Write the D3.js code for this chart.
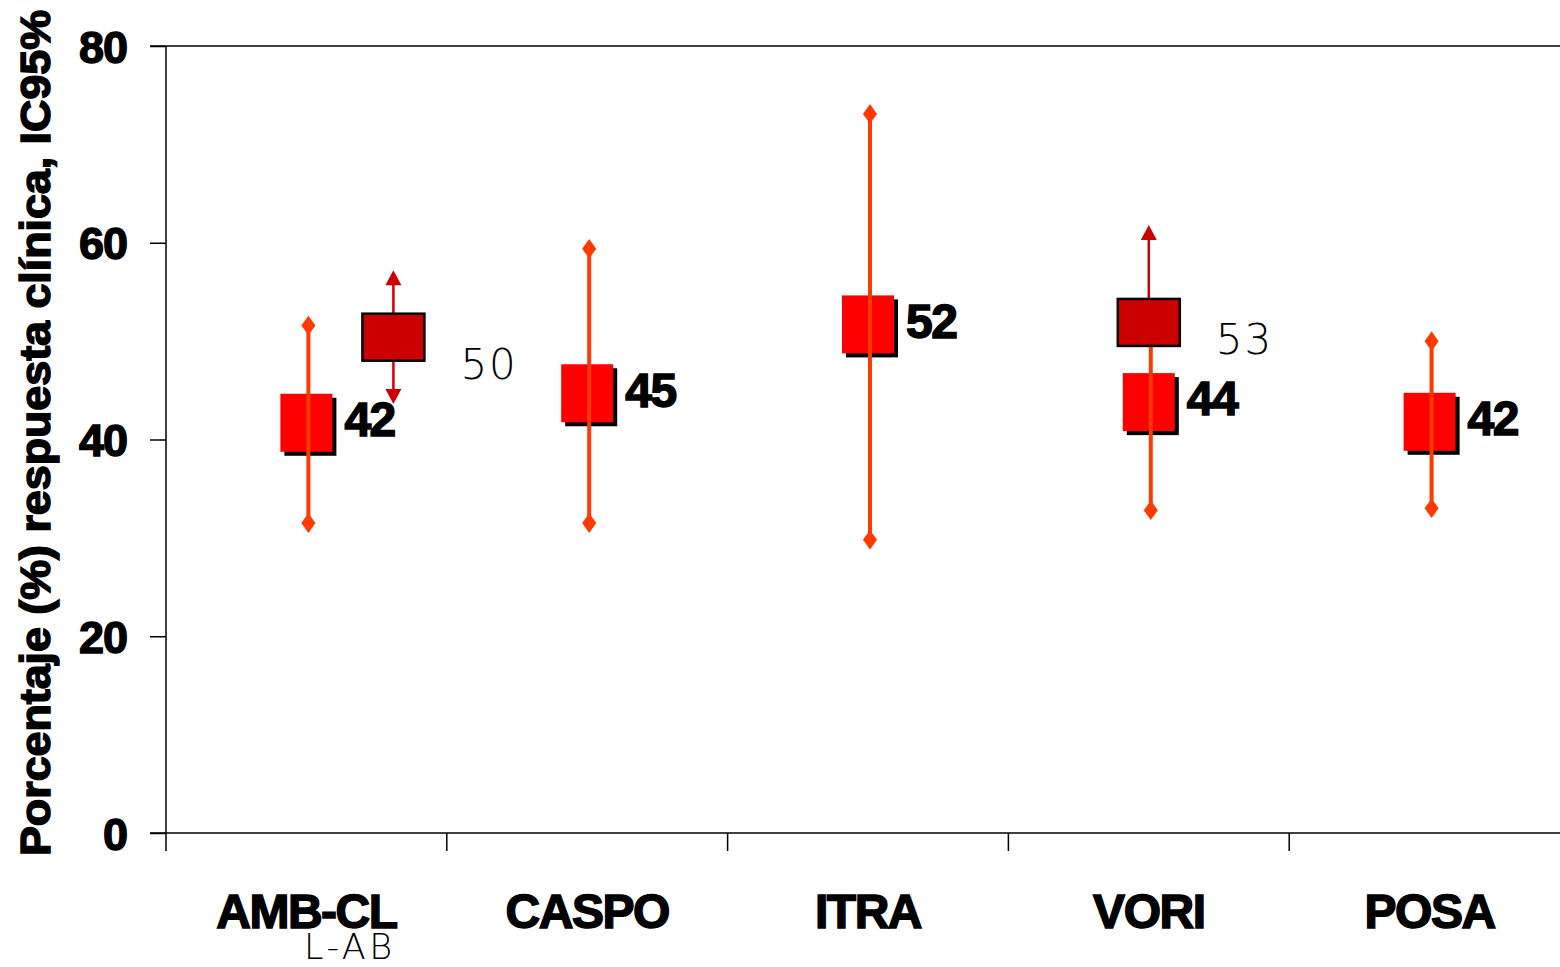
<!DOCTYPE html>
<html><head><meta charset="utf-8">
<script src="https://cdn.jsdelivr.net/npm/d3@7"></script>
<style>
html,body{margin:0;padding:0;background:#fff;overflow:hidden}
svg{display:block}
</style></head>
<body>
<script>
// ---- data ----
const categories = ["AMB-CL", "CASPO", "ITRA", "VORI", "POSA"];
const meanPos = [41.7, 44.7, 51.7, 43.8, 41.8];
const meanLabels = ["42", "45", "52", "44", "42"];
const ciLow = [31.5, 31.5, 29.8, 32.8, 33.0];
const ciHigh = [51.6, 59.4, 73.1, 52.0, 50.0];
const labCategories = ["AMB-CL", "VORI"];
const labPos = [50.4, 51.9];
const labLabels = ["50", "53"];
const labHigh = [57.2, 61.8];
const labLow = [43.6, null];
const yTicks = [0, 20, 40, 60, 80];
const yTitle = "Porcentaje (%) respuesta clínica, IC95%";
const subLabel = "L-AB";

// ---- layout ----
const W = 1560, H = 967;
const svg = d3.select("body").append("svg").attr("width", W).attr("height", H);
const y = d3.scaleLinear().domain([0, 80]).range([833, 46]);
const x = d3.scaleBand().domain(categories).range([166, 1570]);
const cx = c => x(c) + x.bandwidth() / 2;
const labShift = {"AMB-CL": 87, "VORI": 0};
const labDy = {"AMB-CL": 27, "VORI": 16};

const ORANGE = "#ff3a00", RED = "#ff0000", DARK = "#cc0000";

// frame lines
svg.append("line").attr("x1", 150).attr("x2", W).attr("y1", y(80)).attr("y2", y(80))
  .attr("stroke", "#000").attr("stroke-width", 1.5);
svg.append("line").attr("x1", 150).attr("x2", W).attr("y1", y(0)).attr("y2", y(0))
  .attr("stroke", "#000").attr("stroke-width", 1.5);
svg.append("line").attr("x1", 166).attr("x2", 166).attr("y1", y(80)).attr("y2", 851)
  .attr("stroke", "#000").attr("stroke-width", 1.5);

// y axis
const yAxis = svg.append("g").attr("transform", "translate(166,0)")
  .call(d3.axisLeft(y).tickValues(yTicks).tickSize(16).tickSizeOuter(0).tickPadding(23));
yAxis.select(".domain").remove();
yAxis.selectAll(".tick line").attr("stroke", "#000").attr("stroke-width", 1.5);
yAxis.selectAll(".tick text")
  .attr("font-family", "Liberation Sans, Arial, sans-serif").attr("font-weight", "bold")
  .attr("font-size", 45).attr("fill", "#000").attr("stroke", "#000").attr("stroke-width", 1.4)
  .attr("letter-spacing", -1).attr("dy", "0.36em");

// x ticks at band boundaries
const xb = categories.map(c => x(c)).slice(1);
svg.selectAll(".xt").data(xb).enter().append("line")
  .attr("x1", d => d).attr("x2", d => d).attr("y1", y(0)).attr("y2", 851)
  .attr("stroke", "#000").attr("stroke-width", 1.5);

// category labels
svg.selectAll(".cat").data(categories).enter().append("text")
  .attr("x", d => cx(d)).attr("y", 928).attr("text-anchor", "middle")
  .attr("font-family", "Liberation Sans, Arial, sans-serif").attr("font-weight", "bold")
  .attr("font-size", 48).attr("letter-spacing", -1.5)
  .attr("stroke", "#000").attr("stroke-width", 1.5).text(d => d);
svg.append("text").attr("x", 304).attr("y", 959)
  .attr("font-family", "DejaVu Sans, sans-serif").attr("font-size", 35).attr("font-weight", 300)
  .attr("letter-spacing", 3.5).text(subLabel);

// y title
svg.append("text").attr("transform", "translate(50,856) rotate(-90)")
  .attr("font-family", "Liberation Sans, Arial, sans-serif").attr("font-weight", "bold")
  .attr("font-size", 42).attr("stroke", "#000").attr("stroke-width", 1.5)
  .attr("textLength", 846).attr("lengthAdjust", "spacingAndGlyphs")
  .text(yTitle);

// main markers
const main = categories.map((c, i) => ({c, m: meanPos[i], lo: ciLow[i], hi: ciHigh[i], lab: meanLabels[i]}));
const SW = 52, SH = 58;
const g = svg.append("g");
g.selectAll(".shadow").data(main).enter().append("rect")
  .attr("x", d => cx(d.c) - SW / 2 + 4).attr("y", d => y(d.m) - SH / 2 + 4)
  .attr("width", SW).attr("height", SH).attr("fill", "#000");
g.selectAll(".sq").data(main).enter().append("rect")
  .attr("x", d => cx(d.c) - SW / 2).attr("y", d => y(d.m) - SH / 2)
  .attr("width", SW).attr("height", SH).attr("fill", RED);
g.selectAll(".err").data(main).enter().append("line")
  .attr("x1", d => cx(d.c) + 2).attr("x2", d => cx(d.c) + 2)
  .attr("y1", d => y(d.lo)).attr("y2", d => y(d.hi))
  .attr("stroke", ORANGE).attr("stroke-width", 4);
const diamond = d3.symbol().type(d3.symbolDiamond).size(110);
main.forEach(d => {
  [d.lo, d.hi].forEach((v, k) => {
    if (d.c === "VORI" && k === 1) return;
    g.append("path").attr("d", diamond).attr("transform", `translate(${cx(d.c) + 2},${y(v)}) scale(1.25,1)`)
      .attr("fill", ORANGE);
  });
});
g.selectAll(".vl").data(main).enter().append("text")
  .attr("x", d => cx(d.c) + SW / 2 + 12).attr("y", d => y(d.m) - 4).attr("dy", "0.36em")
  .attr("font-family", "Liberation Sans, Arial, sans-serif").attr("font-weight", "bold")
  .attr("font-size", 48).attr("letter-spacing", -1.5)
  .attr("stroke", "#000").attr("stroke-width", 1.5).text(d => d.lab);

// L-AB markers
const lab = labCategories.map((c, i) => ({c, m: labPos[i], hi: labHigh[i], lo: labLow[i], lab: labLabels[i]}));
const BW = 62, BH = 47;
const arrow = (px, y0, y1) => {
  const dir = y1 < y0 ? -1 : 1;
  g.append("line").attr("x1", px).attr("x2", px).attr("y1", y0).attr("y2", y1 - dir * 12)
    .attr("stroke", DARK).attr("stroke-width", 2.5);
  g.append("path").attr("d", `M${px},${y1} L${px - 8},${y1 - dir * 15} L${px + 8},${y1 - dir * 15} Z`)
    .attr("fill", DARK);
};
lab.forEach(d => {
  const px = cx(d.c) + labShift[d.c];
  const cy = y(d.m);
  if (d.hi != null) arrow(px, cy - BH / 2, y(d.hi));
  if (d.lo != null) arrow(px, cy + BH / 2, y(d.lo));
  g.append("rect").attr("x", px - BW / 2).attr("y", cy - BH / 2).attr("width", BW).attr("height", BH)
    .attr("fill", DARK).attr("stroke", "#000").attr("stroke-width", 2.5);
  g.append("text").attr("x", px + BW / 2 + 36).attr("y", cy + labDy[d.c]).attr("dy", "0.36em")
    .attr("font-family", "DejaVu Sans, sans-serif").attr("font-size", 42).attr("font-weight", 300)
    .attr("letter-spacing", 2).text(d.lab);
});
</script>
</body></html>
